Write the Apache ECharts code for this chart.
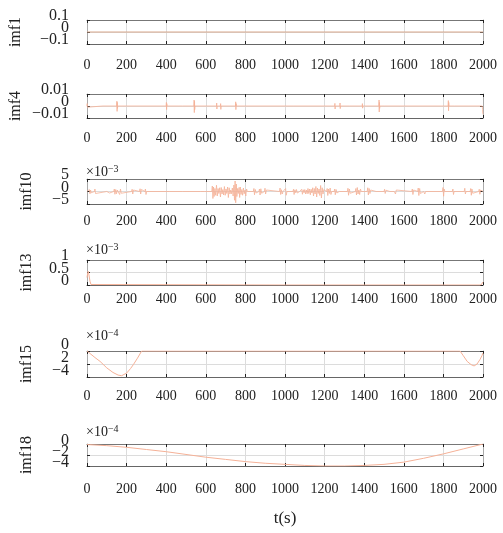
<!DOCTYPE html>
<html><head><meta charset="utf-8">
<script src="https://cdn.jsdelivr.net/npm/echarts@6/dist/echarts.min.js"></script>
<style>html,body{margin:0;padding:0;background:#fff}#c{width:503px;height:533px}</style>
</head><body><div id="c"></div>
<script>
// ---------- data ----------
const panelNames = ['imf1', 'imf4', 'imf10', 'imf13', 'imf15', 'imf18'];
const xTickLabels = ['0','200','400','600','800','1000','1200','1400','1600','1800','2000'];
const yTickValues = [[-0.1,0,0.1],[-0.01,0,0.01],[-5,0,5],[0,0.5,1],[-4,-2,0],[-4,-2,0]];
const yTickLabels = [['−0.1','0','0.1'],['−0.01','0','0.01'],['−5','0','5'],['0','0.5','1'],['−4','2','0'],['−4','−2','0']];
const multiplierExp = ['', '', '−3', '−3', '−4', '−4'];
const xLabel = 't(s)';

const imf1 = [[0,0],[500,0],[1000,0],[1500,0],[2000,0]];

const imf4 = [
[0,0],[1,0.002],[2,-0.001],[3,0],
[80,0],[81,0.0012],[82,-0.0012],[83,0],
[150,0],[151,0.004],[152,-0.0045],[153,0.003],[154,-0.002],[155,0],
[182,0],[183,0.0012],[184,-0.001],[185,0],
[400,0],[401,0.003],[402,-0.003],[403,0.002],[404,0],
[460,0],[461,0.0008],[462,-0.0008],[463,0],
[482,0],[483,0.001],[484,-0.0008],[485,0],
[540,0],[541,0.005],[542,-0.0055],[543,0.004],[544,-0.003],[545,0],
[654,0],[655,0.0025],[656,-0.0025],[657,0],
[674,0],[675,0.002],[676,-0.0028],[677,0],
[750,0],[751,0.0035],[752,-0.003],[753,0.002],[754,0],
[1044,0],[1045,0.0015],[1046,-0.0012],[1047,0],
[1251,0],[1252,0.0022],[1253,-0.0025],[1254,0],
[1277,0],[1278,0.0025],[1279,-0.0022],[1280,0],
[1327,0],[1328,0.0012],[1329,-0.001],[1330,0],
[1390,0],[1391,0.002],[1392,-0.0018],[1393,0],
[1474,0],[1475,0.005],[1476,-0.005],[1477,0.003],[1478,-0.002],[1479,0],
[1501,0],[1502,0.0015],[1503,-0.0012],[1504,0],
[1580,0],[1581,0.0004],[1582,-0.0003],[1583,0],
[1824,0],[1825,0.0045],[1826,-0.004],[1827,0.003],[1828,0],
[1856,0],[1857,0.0015],[1858,-0.0012],[1859,0],
[1925,0],[1926,0.0005],[1927,-0.0005],[1928,0],
[1996,0],[1997,0.001],[1998,-0.003],[1999,-0.006],[2000,-0.007]
];

const imf10 = [
[0,0],[10,0],[12,0.8],[15,-0.9],[18,0.6],[21,-0.5],[24,0],[38,0],[40,1.0],[43,-0.8],[46,0],
[100,0],[103,0.7],[106,-0.8],[110,0.5],[114,-0.6],[118,0],
[135,0],[138,1.0],[141,-1.1],[145,0.8],[149,-0.9],[153,0.6],[157,0],[162,0.9],[165,-1.2],[169,1.0],[173,-0.7],[177,0],
[225,0],[228,0.9],[231,-1.0],[235,0.6],[239,0],
[265,0],[268,1.1],[271,-1.0],[275,0.8],[279,0],[292,0],[295,1.0],[298,-1.2],[301,0],
[415,0],[418,0.7],[421,-0.8],[424,0],
[482,0],[485,0.6],[488,-0.7],[491,0],[520,0],[523,0.8],[526,-0.7],[530,0],
[572,0],[575,0.5],[578,-0.6],[581,0],[592,0],[595,0.5],[598,-0.4],[601,0],
[630,0],[633,2.2],[636,-2.8],[639,1.8],[642,-2.0],[646,1.2],[650,-1.5],[654,2.5],[658,-1.8],[662,1.2],[666,-0.8],[670,1.5],[674,-2.2],[678,1.6],[682,-1.0],[686,0.8],[690,-1.4],[694,2.0],[698,-1.5],
[702,1.0],[706,-0.8],[710,1.8],[714,-2.4],[718,1.5],[722,-1.0],[726,0.6],[730,-0.9],[734,1.4],[738,-1.8],[742,2.6],[745,-3.5],[748,4.2],[751,-4.5],[754,3.0],[757,-2.0],[760,1.2],[764,-0.8],
[768,1.6],[771,-2.4],[774,1.8],[778,-1.2],[782,0.8],[786,-1.5],[790,1.4],[794,-0.9],[798,0.6],[802,-1.8],[806,1.0],[810,0],
[840,0],[843,1.2],[846,-1.3],[850,0.8],[854,-0.6],[858,0],[868,0],[871,1.0],[874,-1.4],[878,1.1],[882,-0.7],[886,0],[896,0],[899,1.3],[902,-1.0],[906,0.6],[910,0],
[972,0],[975,1.4],[978,-1.2],[982,0.7],[986,-1.0],[990,0],[1000,0],[1003,1.2],[1006,-1.5],[1010,0],
[1040,0],[1043,0.9],[1046,-1.2],[1050,0.7],[1054,-0.5],[1058,0.8],[1062,-0.6],[1066,0],[1074,0],[1077,0.6],[1080,-0.7],[1084,0.9],[1088,-1.1],[1092,0.7],[1096,-0.5],[1100,0.8],[1104,-1.0],[1108,0.6],[1112,-0.9],[1116,1.2],[1120,-0.8],[1124,1.0],[1128,-1.3],[1132,0.9],[1136,-0.6],[1140,1.5],[1144,-1.8],[1148,1.2],[1152,-1.0],[1156,2.0],[1160,-2.2],[1164,1.4],[1168,-0.8],[1172,1.0],[1176,-1.6],[1180,2.4],[1184,-2.6],[1188,1.5],[1192,-1.0],[1196,0.8],[1200,0],
[1210,0],[1213,1.2],[1216,-1.6],[1220,1.0],[1224,-0.8],[1228,1.4],[1232,-1.2],[1236,0],[1248,0],[1251,1.0],[1254,-1.3],[1258,0.8],[1262,-0.6],[1266,0],[1274,0],[1277,0.7],[1280,-0.6],[1283,0],
[1315,0],[1318,1.3],[1321,-1.5],[1325,1.0],[1329,-0.7],[1333,0],[1355,0],[1358,1.2],[1361,-1.4],[1365,1.6],[1369,-1.0],[1373,0.6],[1377,-1.2],[1381,1.0],[1385,0],
[1415,0],[1418,1.5],[1421,-1.4],[1425,1.2],[1429,-0.8],[1433,0.6],[1437,0],
[1460,0],[1463,0.5],[1466,-0.6],[1469,0],
[1500,0],[1503,0.9],[1506,-0.8],[1510,0.5],[1514,0],[1530,0],[1533,0.7],[1536,-0.6],[1540,0],[1552,0],[1555,0.8],[1558,-1.0],[1562,0.6],[1566,0],
[1640,0],[1643,1.0],[1646,-1.2],[1650,0.6],[1654,0],[1670,0],[1673,1.4],[1676,-1.6],[1680,1.2],[1684,-0.8],[1688,0],[1700,0],[1703,0.8],[1706,-1.0],[1710,0],
[1795,0],[1798,1.6],[1801,-1.9],[1804,1.0],[1807,0],
[1845,0],[1848,1.0],[1851,-1.2],[1854,0],
[1905,0],[1908,1.3],[1911,-1.0],[1914,0],[1935,0],[1938,1.2],[1941,-1.5],[1944,1.0],[1948,-0.7],[1952,0],
[1978,0],[1981,0.9],[1984,-1.1],[1988,0.6],[1992,0],[2000,0]
];

const imf13 = [[0,0.3],[3,0.45],[6,0.55],[10,0.4],[15,0.15],[20,0.02],[30,0],[1000,0],[1990,0],[1996,0.04],[2000,0.12]];

const imf15 = [[0,0],[20,-0.5],[40,-1.0],[66,-1.6],[100,-2.6],[131,-3.3],[157,-3.7],[175,-3.8],[200,-3.4],[220,-2.7],[234,-2.1],[255,-1.1],[276,0],[1000,0],[1884,0],[1900,-0.7],[1920,-1.6],[1940,-2.1],[1955,-2.3],[1970,-2.0],[1985,-1.3],[1995,-0.7],[2000,-0.3]];

const imf18 = [[0,-0.1],[100,-0.3],[200,-0.6],[300,-1.0],[400,-1.4],[500,-1.9],[600,-2.4],[700,-2.8],[800,-3.2],[900,-3.5],[1000,-3.7],[1100,-3.9],[1200,-4.0],[1300,-4.0],[1400,-3.9],[1500,-3.7],[1600,-3.3],[1700,-2.6],[1800,-1.8],[1900,-0.9],[2000,0]];

const seriesData = [imf1, imf4, imf10, imf13, imf15, imf18];

// ---------- layout ----------
const FONT = '"Liberation Serif", "Times New Roman", serif';
const tops = [20, 94, 179, 260, 351, 444];
const heights = [24, 24, 25, 25, 26, 22];
const xLabelMargin = [14, 13, 10, 7, 12, 16];
const nameGaps = [63, 63, 52, 52, 52, 52];
const multTop = [0, 0, 164, 242, 328, 424];
const yLabelShift = [-4, -4, -4, -4, -6, -3];
const lineColor = '#f5b197';

const grids = [], xAxes = [], yAxes = [], series = [], titles = [];
for (let i = 0; i < 6; i++) {
  grids.push({left: 87, right: 20, top: tops[i], height: heights[i], show: false,
    containLabel: false, outerBoundsMode: 'none'});
  const yv = yTickValues[i];
  const step = yv[1] - yv[0];
  xAxes.push({
    type: 'value', gridIndex: i, min: 0, max: 2000, interval: 200, position: 'bottom',
    axisLine: {show: true, onZero: false, lineStyle: {color: '#666', width: 1}},
    axisTick: {show: true, inside: true, length: 3, lineStyle: {color: '#222'}},
    axisLabel: {show: true, margin: xLabelMargin[i], fontSize: 14, fontFamily: FONT, color: '#222',
      showMinLabel: true, showMaxLabel: true, hideOverlap: false,
      formatter: v => xTickLabels[Math.round(v / 200)]},
    splitLine: {show: true, lineStyle: {color: '#dcdcdc', width: 1}},
    name: i === 5 ? xLabel : '', nameLocation: 'middle', nameGap: 44,
    nameTextStyle: {fontSize: 17, fontFamily: FONT, color: '#222'}
  });
  xAxes.push({
    type: 'value', gridIndex: i, min: 0, max: 2000, interval: 200, position: 'top',
    axisLine: {show: true, onZero: false, lineStyle: {color: '#777', width: 1}},
    axisTick: {show: true, inside: true, length: 3, lineStyle: {color: '#222'}},
    axisLabel: {show: false}, splitLine: {show: false}
  });
  yAxes.push({
    type: 'value', gridIndex: i, min: yv[0], max: yv[2], interval: step, position: 'left',
    axisLine: {show: true, onZero: false, lineStyle: {color: '#aaa', width: 1}},
    axisTick: {show: true, inside: true, length: 3, lineStyle: {color: '#222'}},
    axisLabel: {show: false},
    splitLine: {show: true, lineStyle: {color: '#dcdcdc', width: 1}},
    name: panelNames[i], nameLocation: 'middle', nameGap: nameGaps[i],
    nameTextStyle: {fontSize: 16, fontFamily: FONT, color: '#222'}
  });
  yAxes.push({
    type: 'value', gridIndex: i, min: yv[0], max: yv[2], interval: step, position: 'right',
    axisLine: {show: true, onZero: false, lineStyle: {color: '#aaa', width: 1}},
    axisTick: {show: true, inside: true, length: 3, lineStyle: {color: '#222'}},
    axisLabel: {show: false}, splitLine: {show: false}
  });
  series.push({
    type: 'line', xAxisIndex: 2 * i, yAxisIndex: 2 * i, data: seriesData[i],
    showSymbol: false, symbol: 'none', clip: true, animation: false,
    lineStyle: {color: i === 0 ? '#d9a88c' : lineColor, width: (i === 1 || i === 2) ? 0.8 : 1}
  });
  if (multiplierExp[i]) {
    titles.push({
      text: '×10{s|' + multiplierExp[i] + '}', left: 86, top: multTop[i], padding: 0,
      textStyle: {fontSize: 14, fontFamily: FONT, color: '#222', fontWeight: 'normal',
        rich: {s: {fontSize: 10, fontFamily: FONT, color: '#222', verticalAlign: 'top', padding: [0, 0, 6, 0]}}}
    });
  }
}

const chart = echarts.init(document.getElementById('c'), null, {renderer: 'canvas'});
chart.setOption({
  animation: false,
  backgroundColor: '#fff',
  title: titles,
  grid: grids, xAxis: xAxes, yAxis: yAxes, series: series
});

// y tick labels placed through the axis scale (ECharts hides overlapping ones otherwise)
const yLabelGraphics = [];
for (let i = 0; i < 6; i++) {
  yTickValues[i].forEach((v, k) => {
    const p = chart.convertToPixel({xAxisIndex: 2 * i, yAxisIndex: 2 * i}, [0, v]);
    yLabelGraphics.push({
      type: 'text', x: p[0] - 18, y: p[1] + yLabelShift[i], silent: true,
      style: {text: yTickLabels[i][k], fontSize: 16, fontFamily: FONT, fill: '#222',
        align: 'right', verticalAlign: 'middle'}
    });
  });
}
chart.setOption({graphic: yLabelGraphics});
</script></body></html>
